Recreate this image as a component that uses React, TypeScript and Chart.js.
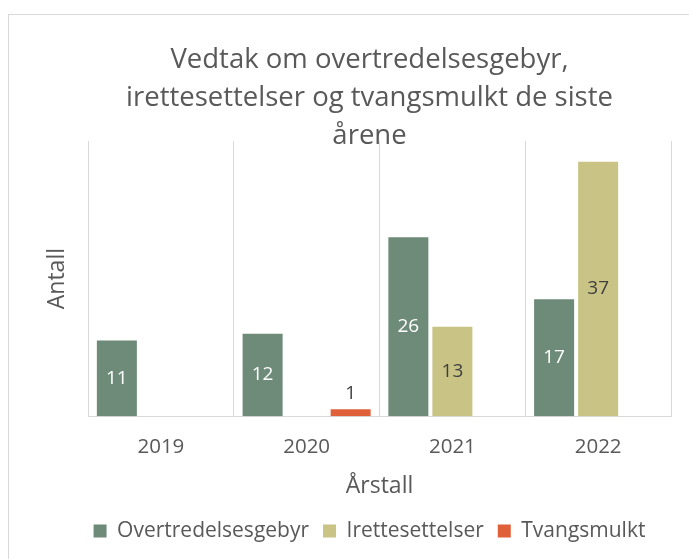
import React, { useEffect, useRef } from "react";
import { Chart, registerables } from "chart.js";

Chart.register(...registerables);

const categories = ["2019", "2020", "2021", "2022"];
const overtredelsesgebyr = [11, 12, 26, 17];
const irettesettelser = [0, 0, 13, 37];
const tvangsmulkt = [0, 1, 0, 0];
const seriesNames = ["Overtredelsesgebyr", "Irettesettelser", "Tvangsmulkt"];
const seriesColors = ["#6E8B79", "#C9C485", "#E0603A"];
const labelColors = ["#FFFFFF", "#404040", "#404040"];
const titleLines = [
  "Vedtak om overtredelsesgebyr,",
  "irettesettelser og tvangsmulkt de siste",
  "årene",
];
const yTitle = "Antall";
const xTitle = "Årstall";
const yMax = 40;

const FONT = '"Open Sans", "Noto Sans", sans-serif';
const GREY = "#595959";

const valueLabels = {
  id: "valueLabels",
  afterDatasetsDraw(chart: any) {
    const ctx = chart.ctx;
    chart.data.datasets.forEach((ds: any, i: number) => {
      const meta = chart.getDatasetMeta(i);
      meta.data.forEach((bar: any, j: number) => {
        const v = ds.data[j];
        if (!v) return;
        const { x, y, base } = bar.getProps(["x", "y", "base"], true);
        ctx.save();
        ctx.font = `19px ${FONT}`;
        ctx.textAlign = "center";
        ctx.fillStyle = labelColors[i];
        if (i === 2) {
          ctx.textBaseline = "alphabetic";
          ctx.fillText(String(v), x, y - 10);
        } else {
          ctx.textBaseline = "middle";
          ctx.fillText(String(v), x, (y + base) / 2);
        }
        ctx.restore();
      });
    });
  },
};

export default function App() {
  const ref = useRef<HTMLCanvasElement | null>(null);

  useEffect(() => {
    if (!ref.current) return;
    const data = [overtredelsesgebyr, irettesettelser, tvangsmulkt];
    const chart = new Chart(ref.current, {
      type: "bar",
      data: {
        labels: categories,
        datasets: seriesNames.map((name, i) => ({
          label: name,
          data: data[i],
          backgroundColor: seriesColors[i],
          borderWidth: 0,
          categoryPercentage: 0.906,
          barPercentage: 0.909,
        })),
      },
      options: {
        responsive: false,
        animation: false,
        devicePixelRatio: 1,
        layout: { padding: { left: 68, right: 18, top: 0, bottom: 7.5 } },
        plugins: {
          tooltip: { enabled: false },
          title: {
            display: true,
            text: titleLines,
            color: GREY,
            font: { family: FONT, size: 27.5, weight: "normal", lineHeight: 1.382 },
            padding: { top: 41.3, bottom: -14.3 },
          },
          legend: {
            position: "bottom",
            labels: {
              boxWidth: 13,
              boxHeight: 13,
              padding: 14,
              color: GREY,
              font: { family: FONT, size: 21 },
            },
          },
        },
        scales: {
          x: {
            grid: { display: true, color: "#D9D9D9", drawTicks: false, offset: true },
            border: { display: true, color: "#D9D9D9" },
            ticks: { color: GREY, padding: 19, font: { family: FONT, size: 20.5 } },
            title: {
              display: true,
              text: xTitle,
              color: GREY,
              font: { family: FONT, size: 23 },
              padding: { top: -5.8, bottom: 5.9 },
            },
          },
          y: {
            min: 0,
            max: yMax,
            grid: { display: false, drawTicks: false, tickLength: 0 },
            border: { display: false },
            ticks: { display: false },
            title: {
              display: true,
              text: yTitle,
              color: GREY,
              font: { family: FONT, size: 23 },
              padding: { top: -24.3, bottom: 16.7 },
            },
          },
        },
      },
      plugins: [valueLabels],
    });
    return () => chart.destroy();
  }, []);

  return (
    <div style={{ position: "fixed", left: 0, top: 0, width: 689, height: 559, overflow: "hidden", background: "#fff" }}>
      <div
        style={{
          position: "absolute",
          left: 8,
          top: 14,
          width: 720,
          height: 600,
          borderTop: "1px solid #D9D9D9",
          borderLeft: "1px solid #D9D9D9",
        }}
      />
      <canvas ref={ref} width={689} height={559} style={{ position: "absolute", left: 0, top: 0 }} />
    </div>
  );
}
